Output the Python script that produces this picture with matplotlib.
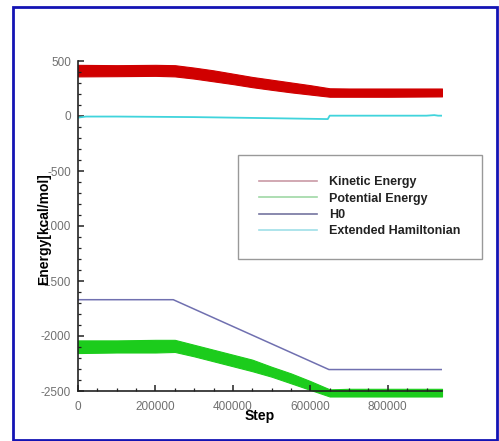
import matplotlib
matplotlib.use('Agg')
import matplotlib.pyplot as plt
from matplotlib.lines import Line2D
from matplotlib.patches import Rectangle

plt.rcParams['font.family'] = ['Liberation Sans', 'DejaVu Sans']
plt.rcParams['axes.unicode_minus'] = False

# Kinetic energy band (upper / lower edge of the noisy trace)
ke_step = [0, 100000, 200000, 250000, 300000, 350000, 400000, 450000, 500000,
           550000, 600000, 650000, 700000, 800000, 940000]
ke_upper = [465, 462, 465, 462, 440, 415, 385, 355, 330, 305, 280, 252, 250, 250, 250]
ke_lower = [360, 362, 365, 360, 340, 315, 290, 262, 238, 215, 195, 175, 175, 175, 178]

# Potential energy band
pe_step = ke_step
pe_upper = [-2040, -2040, -2035, -2035, -2080, -2125, -2170, -2215, -2280,
            -2340, -2410, -2485, -2480, -2480, -2480]
pe_lower = [-2155, -2150, -2150, -2145, -2185, -2230, -2275, -2320, -2370,
            -2430, -2490, -2550, -2550, -2550, -2550]

# H0
h0_step = [0, 246000, 648000, 940000]
h0 = [-1670, -1670, -2305, -2305]

# Extended Hamiltonian
eh_step = [0, 20000, 100000, 300000, 500000, 645000, 650000, 900000, 920000, 930000, 940000]
eh = [-15, -5, -5, -10, -20, -28, 3, 3, 8, 3, 3]

labels = ['Kinetic Energy', 'Potential Energy', 'H0', 'Extended Hamiltonian']
legend_colors = ['#c99aa6', '#9fd8a6', '#7474a0', '#9fdfe8']

fig = plt.figure(figsize=(4.99, 4.41), dpi=100)
ax = fig.add_axes([78 / 499, 1 - 391 / 441, 364 / 499, 330 / 441])

ax.fill_between(ke_step, ke_lower, ke_upper, color='#d00000', linewidth=0.8,
                edgecolor='#d00000')
ax.fill_between(pe_step, pe_lower, pe_upper, color='#1ccc1c', linewidth=0.8,
                edgecolor='#1ccc1c', clip_on=False)
ax.plot(h0_step, h0, color='#7070b0', linewidth=1.1)
ax.plot(eh_step, eh, color='#40d4dc', linewidth=1.3)

ax.set_xlim(0, 940000)
ax.set_ylim(-2500, 500)
ax.set_xticks([0, 200000, 400000, 600000, 800000])
ax.set_xticks(range(0, 940001, 50000), minor=True)
ax.set_yticks([-2500, -2000, -1500, -1000, -500, 0, 500])
ax.set_yticks(range(-2500, 501, 100), minor=True)

for s in ['top', 'right']:
    ax.spines[s].set_visible(False)
for s in ['left', 'bottom']:
    ax.spines[s].set_linewidth(1.2)
    ax.spines[s].set_color('#222222')

ax.tick_params(which='both', direction='in', colors='#222222', labelcolor='#707070',
               labelsize=8.5)
ax.tick_params(which='major', length=4.5, width=1.1)
ax.tick_params(which='minor', length=2.5, width=0.9)
ax.tick_params(axis='x', pad=7)
ax.tick_params(axis='y', pad=5)

ax.set_xlabel('Step', fontsize=10, fontweight='bold')
ax.set_ylabel('Energy[kcal/mol]', fontsize=10, fontweight='bold')
ax.xaxis.set_label_coords(0.5, -0.055)
ax.yaxis.set_label_coords(-0.075, 0.49)

handles = [Line2D([], [], color=c, linewidth=1.2) for c in legend_colors]
leg = ax.legend(handles, labels, loc='upper left',
                bbox_to_anchor=(238 / 499, 1 - 155 / 441), bbox_transform=fig.transFigure,
                prop={'size': 9, 'weight': 'bold'}, fancybox=False,
                handlelength=4.6, handletextpad=1.0, labelspacing=0.35,
                borderpad=1.7, borderaxespad=0)
leg.get_frame().set_edgecolor('#808080')
leg.get_frame().set_linewidth(1.0)
for t in leg.get_texts():
    t.set_color('#222222')

fig.patches.append(Rectangle((13 / 499, 1 - 440 / 441), 484 / 499, 433 / 441,
                             transform=fig.transFigure, fill=False,
                             edgecolor='#1414b4', linewidth=2))

fig.savefig('out.png', dpi=100)
